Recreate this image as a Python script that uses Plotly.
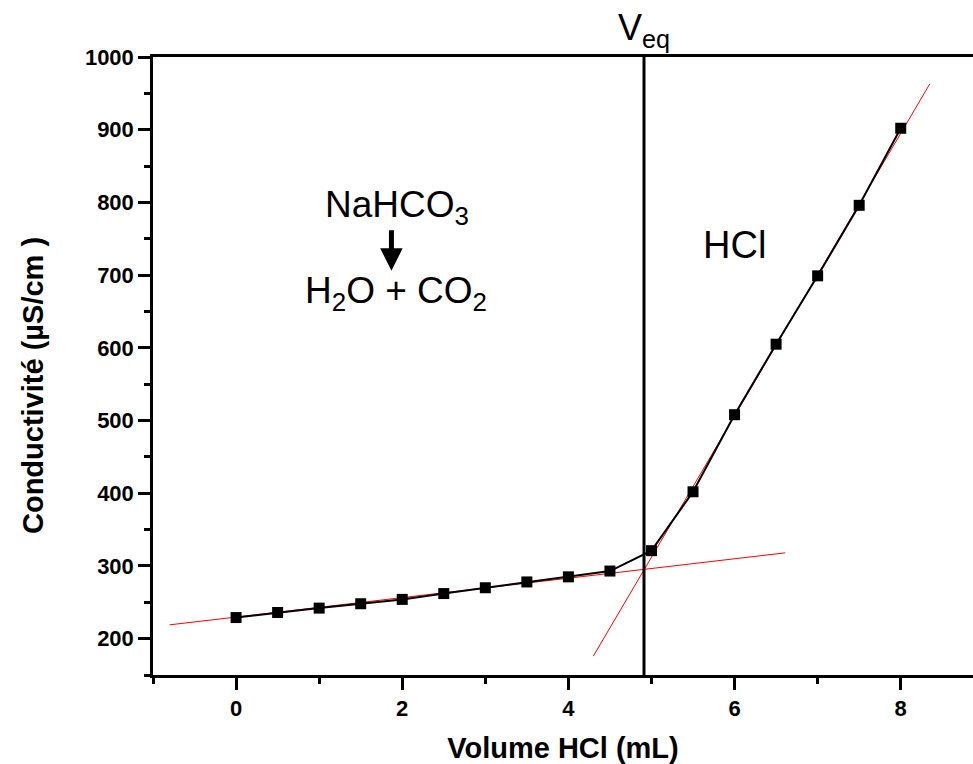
import plotly.graph_objects as go

# Data
volume = [0, 0.5, 1, 1.5, 2, 2.5, 3, 3.5, 4, 4.5, 5, 5.5, 6, 6.5, 7, 7.5, 8]
conductivity = [229, 236, 242, 248, 254, 262, 270, 278, 285, 293, 321, 402, 508, 605, 699, 796, 902]

# Tick labels
x_ticks = [0, 2, 4, 6, 8]
y_ticks = [200, 300, 400, 500, 600, 700, 800, 900, 1000]

# Linear fits (red lines), endpoints
fit_low_x = [-0.8, 6.61]
fit_low_y = [219, 318]
fit_high_x = [4.30, 8.35]
fit_high_y = [176, 963]

v_eq = 4.91

FONT = "Liberation Sans, Arial, sans-serif"

fig = go.Figure()
fig.add_trace(go.Scatter(x=fit_low_x, y=fit_low_y, mode="lines",
                         line=dict(color="#ff0000", width=1), showlegend=False))
fig.add_trace(go.Scatter(x=fit_high_x, y=fit_high_y, mode="lines",
                         line=dict(color="#ff0000", width=1), showlegend=False))
fig.add_trace(go.Scatter(x=volume, y=conductivity, mode="lines+markers",
                         line=dict(color="black", width=2),
                         marker=dict(symbol="square", size=11, color="black",
                                     line=dict(width=0)),
                         showlegend=False))

fig.add_shape(type="line", x0=v_eq, x1=v_eq, y0=150, y1=1000,
              xref="x", yref="y", line=dict(color="black", width=3))

fig.add_annotation(x=v_eq, y=1000, xref="x", yref="y", text="V<sub>eq</sub>",
                   showarrow=False, yanchor="bottom", xanchor="center",
                   font=dict(family=FONT, size=36, color="black"), yshift=2)
fig.add_annotation(x=1.94, y=794, xref="x", yref="y", text="NaHCO<sub>3</sub>",
                   showarrow=False, font=dict(family=FONT, size=37, color="black"))
fig.add_annotation(x=1.93, y=675, xref="x", yref="y", text="H<sub>2</sub>O + CO<sub>2</sub>",
                   showarrow=False, font=dict(family=FONT, size=37, color="black"))
fig.add_annotation(x=6.0, y=741, xref="x", yref="y", text="HCl",
                   showarrow=False, font=dict(family=FONT, size=38, color="black"))
fig.add_annotation(x=1.87, y=706, xref="x", yref="y", text="", showarrow=True,
                   ax=0, ay=-42, arrowhead=2, arrowsize=0.9, arrowwidth=5,
                   arrowcolor="black")

# y-axis title placed as an annotation (it sits slightly below the axis centre)
fig.add_annotation(xref="paper", yref="paper", x=0, y=(675 - 386) / 618,
                   xshift=-120, text="<b>Conductivité (µS/cm )</b>", textangle=-90,
                   showarrow=False, xanchor="center", yanchor="middle",
                   font=dict(family=FONT, size=29, color="black"))

fig.update_xaxes(range=[-1, 8.87], tickmode="array", tickvals=x_ticks,
                 ticktext=[f"<b>{v}</b>" for v in x_ticks],
                 ticks="outside", ticklen=12, tickwidth=2.5, tickcolor="black",
                 minor=dict(ticks="outside", ticklen=6, tickwidth=2.5, dtick=1,
                            tick0=0, tickcolor="black"),
                 showline=True, linecolor="black", linewidth=2.5, mirror=True,
                 showgrid=False, zeroline=False,
                 tickfont=dict(family="Arial", size=22, color="black"),
                 title=dict(text="<b>Volume HCl (mL)</b>", standoff=20,
                            font=dict(family=FONT, size=29, color="black")))
fig.update_yaxes(range=[150, 1000], tickmode="array", tickvals=y_ticks,
                 ticktext=[f"<b>{v}</b>" for v in y_ticks],
                 ticks="outside", ticklen=12, tickwidth=2.5, tickcolor="black",
                 minor=dict(ticks="outside", ticklen=6, tickwidth=2.5, dtick=50,
                            tick0=150, tickcolor="black"),
                 showline=True, linecolor="black", linewidth=2.5,
                 showgrid=False, zeroline=False,
                 tickfont=dict(family="Arial", size=22, color="black"))

fig.update_layout(width=973, height=764, margin=dict(l=153, r=0, t=57, b=89),
                  font=dict(family=FONT, size=22, color="black"),
                  plot_bgcolor="white", paper_bgcolor="white", showlegend=False)

fig.write_html("out.html")
